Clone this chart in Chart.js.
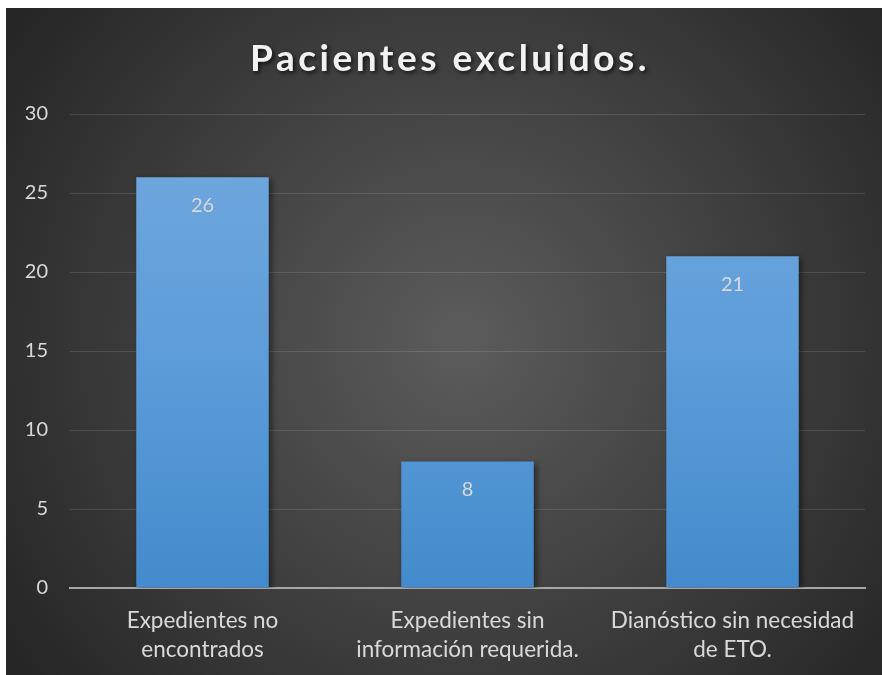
<!DOCTYPE html>
<html>
<head>
<meta charset="utf-8">
<script src="https://cdn.jsdelivr.net/npm/chart.js@4/dist/chart.umd.min.js"></script>
<style>
  html, body { margin: 0; padding: 0; background: #fff; }
  #wrap { position: absolute; left: 6px; top: 8px; width: 876px; height: 667px; }
</style>
</head>
<body>
<div id="wrap"><canvas id="grafico"></canvas></div>
<script>
var titulo = 'Pacientes excluidos.';
var categorias = [
    ['Expedientes no', 'encontrados'],
    ['Expedientes sin', 'información requerida.'],
    ['Dianóstico sin necesidad', 'de ETO.']
];
var pacientes = [26, 8, 21];
var marcasY = [0, 5, 10, 15, 20, 25, 30];

var fuente = 'Lato, "Open Sans", sans-serif';

// fondo oscuro con degradado radial
var fondoPlugin = {
    id: 'fondo',
    beforeDraw: function(chart) {
        var ctx = chart.ctx;
        var w = chart.width, h = chart.height;
        var g = ctx.createRadialGradient(w * 0.52, h * 0.5, 20, w * 0.52, h * 0.5, w * 0.62);
        g.addColorStop(0, '#5a5a5a');
        g.addColorStop(1, '#262626');
        ctx.save();
        ctx.fillStyle = g;
        ctx.fillRect(0, 0, w, h);
        ctx.restore();
    }
};

// titulo con espaciado entre letras y sombra
var tituloPlugin = {
    id: 'tituloEspaciado',
    afterDraw: function(chart) {
        var ctx = chart.ctx;
        ctx.save();
        ctx.font = 'bold 37px ' + fuente;
        ctx.letterSpacing = '3.5px';
        ctx.fillStyle = '#f2f2f2';
        ctx.textAlign = 'center';
        ctx.textBaseline = 'middle';
        ctx.shadowColor = 'rgba(0,0,0,0.7)';
        ctx.shadowBlur = 4;
        ctx.shadowOffsetX = 2;
        ctx.shadowOffsetY = 2;
        ctx.fillText(titulo, chart.width / 2 + 6, 51);
        ctx.restore();
    }
};

// sombra de las barras
var sombraPlugin = {
    id: 'sombraBarras',
    beforeDatasetsDraw: function(chart) {
        var ctx = chart.ctx;
        ctx.save();
        ctx.shadowColor = 'rgba(0,0,0,0.45)';
        ctx.shadowBlur = 6;
        ctx.shadowOffsetX = 3;
        ctx.shadowOffsetY = 2;
    },
    afterDatasetsDraw: function(chart) {
        chart.ctx.restore();
    }
};

// valores dentro de cada barra, cerca del extremo
var etiquetasPlugin = {
    id: 'etiquetas',
    afterDatasetsDraw: function(chart) {
        var ctx = chart.ctx;
        var meta = chart.getDatasetMeta(0);
        ctx.save();
        ctx.font = '20px ' + fuente;
        ctx.fillStyle = '#d9d9d9';
        ctx.textAlign = 'center';
        ctx.textBaseline = 'middle';
        meta.data.forEach(function(barra, i) {
            ctx.fillText(String(pacientes[i]), barra.x, barra.y + 28);
        });
        ctx.restore();
    }
};

var ctx = document.getElementById('grafico');
var grafico = new Chart(ctx, {
    type: 'bar',
    data: {
        labels: categorias,
        datasets: [{
            data: pacientes,
            backgroundColor: function(c) {
                var area = c.chart.chartArea;
                if (!area) return '#5b9bd5';
                var g = c.chart.ctx.createLinearGradient(0, area.top, 0, area.bottom);
                g.addColorStop(0, '#73a8de');
                g.addColorStop(0.5, '#5d9dd9');
                g.addColorStop(1, '#438bcc');
                return g;
            },
            borderWidth: 0,
            categoryPercentage: 1,
            barPercentage: 0.5
        }]
    },
    options: {
        responsive: true,
        maintainAspectRatio: false,
        animation: false,
        layout: { padding: { top: 106, right: 17, left: 0, bottom: 0 } },
        plugins: {
            legend: { display: false },
            title: { display: false },
            tooltip: { enabled: false }
        },
        scales: {
            x: {
                grid: { display: false },
                border: { display: true, color: '#a6a6a6', width: 2 },
                ticks: {
                    color: '#d9d9d9',
                    font: { family: fuente, size: 22.5, lineHeight: 1.29 },
                    padding: 10,
                    maxRotation: 0,
                    autoSkip: false
                },
                afterFit: function(scale) { scale.height = 87; }
            },
            y: {
                min: 0,
                max: 30,
                afterBuildTicks: function(scale) {
                    scale.ticks = marcasY.map(function(v) { return { value: v }; });
                },
                grid: { color: 'rgba(255,255,255,0.13)', lineWidth: 1, drawTicks: false },
                border: { display: false },
                ticks: {
                    color: '#d9d9d9',
                    font: { family: fuente, size: 20 },
                    padding: 22
                },
                afterFit: function(scale) { scale.width = 64; }
            }
        }
    },
    plugins: [fondoPlugin, sombraPlugin, etiquetasPlugin, tituloPlugin]
});
</script>
</body>
</html>
